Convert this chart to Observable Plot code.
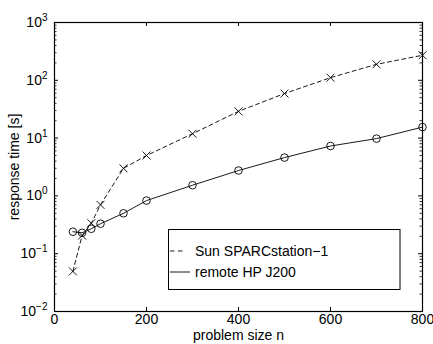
<!DOCTYPE html>
<html><head>
<meta charset="utf-8">
<script src="https://cdn.jsdelivr.net/npm/d3@7"></script>
<script src="https://cdn.jsdelivr.net/npm/@observablehq/plot@0.6"></script>
<style>body{margin:0;background:#fff}</style>
</head><body><div id="chart"></div>
<script>
const problemSize = [40, 60, 80, 100, 150, 200, 300, 400, 500, 600, 700, 800];
const sunTimes = [0.0495, 0.206, 0.337, 0.70, 3.0, 5.0, 11.9, 29, 59, 111, 189, 271];
const hpTimes = [0.24, 0.23, 0.27, 0.33, 0.50, 0.83, 1.53, 2.75, 4.6, 7.3, 9.8, 15.5];
const xTicks = [0, 200, 400, 600, 800];
const yTicks = [1e-2, 1e-1, 1, 10, 100, 1000];
const seriesNames = ["Sun SPARCstation\u22121", "remote HP J200"];

const W = 433, H = 344, mL = 54, mR = 11, mT = 22, mB = 33;
const plotW = W - mL - mR, plotH = H - mT - mB;
const minorTicks = d3.range(-2, 3).flatMap(e => d3.range(2, 10).map(k => k * 10 ** e));
const sunData = problemSize.map((n, i) => ({n, t: sunTimes[i]}));
const hpData = problemSize.map((n, i) => ({n, t: hpTimes[i]}));
const font = "'Liberation Sans', Arial, Helvetica, sans-serif";

const chart = Plot.plot({
  width: W, height: H,
  marginLeft: mL, marginRight: mR, marginTop: mT, marginBottom: mB,
  style: {fontFamily: font, fontSize: "14px", background: "white", color: "black"},
  x: {domain: [0, 800]},
  y: {type: "log", domain: [1e-2, 1e3]},
  marks: [
    Plot.tickY(yTicks, {y: d => d, insetRight: plotW - 4, stroke: "black"}),
    Plot.tickY(yTicks, {y: d => d, insetLeft: plotW - 4, stroke: "black"}),
    Plot.tickY(minorTicks, {y: d => d, insetRight: plotW - 2.5, stroke: "black", strokeWidth: 0.8}),
    Plot.tickY(minorTicks, {y: d => d, insetLeft: plotW - 2.5, stroke: "black", strokeWidth: 0.8}),
    Plot.tickX(xTicks.slice(1, -1), {x: d => d, insetTop: plotH - 4, stroke: "black"}),
    Plot.tickX(xTicks.slice(1, -1), {x: d => d, insetBottom: plotH - 4, stroke: "black"}),
    Plot.line(sunData, {x: "n", y: "t", stroke: "black", strokeWidth: 0.9, strokeDasharray: "4,3.3"}),
    Plot.dot(sunData, {x: "n", y: "t", symbol: "times", r: 3.7, stroke: "black", strokeWidth: 0.9}),
    Plot.line(hpData, {x: "n", y: "t", stroke: "black", strokeWidth: 0.9}),
    Plot.dot(hpData, {x: "n", y: "t", symbol: "circle", r: 3.8, stroke: "black", fill: "none", strokeWidth: 0.9}),
    Plot.frame({stroke: "black", strokeWidth: 1.2}),
    Plot.axisX({ticks: xTicks, tickSize: 0, tickPadding: 3, label: "problem size n", labelAnchor: "center", labelArrow: "none", labelOffset: 28}),
    Plot.axisY({ticks: yTicks, tickSize: 0, tickPadding: 7, tickFormat: d => "10^" + Math.round(Math.log10(d)),
      label: "response time [s]", labelAnchor: "center", labelArrow: "none", labelOffset: 45})
  ]
});
document.getElementById("chart").appendChild(chart);

// superscript exponents on the log-axis tick labels
d3.select(chart).selectAll('g[aria-label="y-axis tick label"] text').each(function() {
  const s = d3.select(this);
  const parts = s.text().split("^");
  const exp = parts[1].replace("-", "\u2212");
  s.text(parts[0]);
  s.append("tspan").attr("dy", "-6").attr("font-size", "10px").text(exp);
});

// legend
const svg = d3.select(chart);
const lg = svg.append("g").attr("font-family", font).attr("font-size", "14px").attr("text-anchor", "start");
lg.append("rect").attr("x", 168.5).attr("y", 229.5).attr("width", 231.5).attr("height", 60)
  .attr("fill", "white").attr("stroke", "black").attr("stroke-width", 1);
const rows = [{y: 251, x2: 183, dash: "4.5,3.5"}, {y: 272, x2: 190, dash: null}];
rows.forEach((r, i) => {
  const l = lg.append("line").attr("x1", 170).attr("x2", r.x2).attr("y1", r.y).attr("y2", r.y)
    .attr("stroke", "black").attr("stroke-width", 0.9);
  if (r.dash) l.attr("stroke-dasharray", r.dash);
  lg.append("text").attr("x", 195).attr("y", r.y).attr("dy", "0.35em").attr("fill", "black").text(seriesNames[i]);
});
</script>
</body></html>
